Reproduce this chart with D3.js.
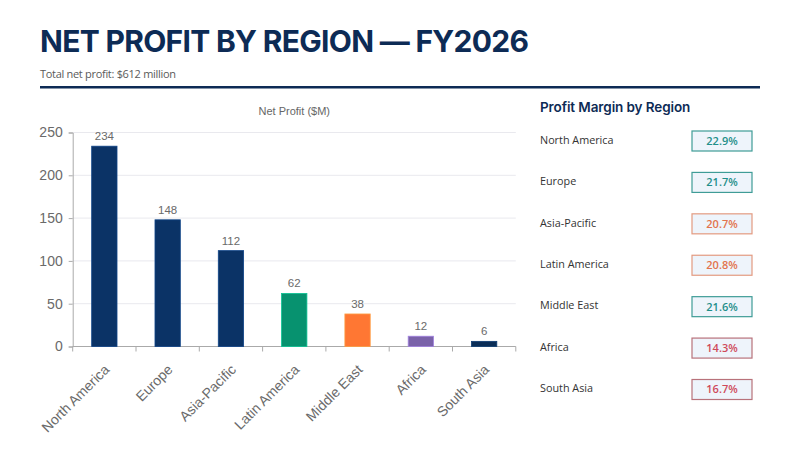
<!DOCTYPE html>
<html>
<head>
<meta charset="utf-8">
<script src="https://cdn.jsdelivr.net/npm/d3@7"></script>
<style>
  body { margin: 0; background: #fff; }
  svg { display: block; }
</style>
</head>
<body>
<div id="chart"></div>
<script>
const regions = ["North America", "Europe", "Asia-Pacific", "Latin America", "Middle East", "Africa", "South Asia"];
const profit = [234, 148, 112, 62, 38, 12, 6];
const barColors = ["#0b3366", "#0b3366", "#0b3366", "#07926f", "#ff7733", "#7a62a9", "#0a2d56"];
const margins = [22.9, 21.7, 20.7, 20.8, 21.6, 14.3, 16.7];
const yTicks = [0, 50, 100, 150, 200, 250];

const width = 800;
const height = 450;
const navy = "#0d2b55";

const svg = d3.select("#chart")
    .append("svg")
    .attr("width", width)
    .attr("height", height);

// header
svg.append("text")
    .attr("x", 40)
    .attr("y", 52)
    .attr("font-family", "Inter")
    .attr("font-weight", 700)
    .attr("font-size", 30)
    .attr("letter-spacing", -0.7)
    .attr("fill", navy)
    .text("NET PROFIT BY REGION — FY2026");

svg.append("text")
    .attr("x", 40)
    .attr("y", 78)
    .attr("font-family", "Open Sans")
    .attr("font-size", 11)
    .attr("letter-spacing", -0.3)
    .attr("fill", "#5a5a5a")
    .text("Total net profit: $612 million");

svg.append("rect")
    .attr("x", 40)
    .attr("y", 86)
    .attr("width", 720)
    .attr("height", 2.5)
    .attr("fill", navy);

// bar chart
const plot = { left: 72.7, right: 515.8, top: 132.5, bottom: 346.5 };

const x = d3.scaleBand()
    .domain(regions)
    .range([plot.left, plot.right])
    .paddingInner(0.6)
    .paddingOuter(0.3);

const y = d3.scaleLinear()
    .domain([0, 250])
    .range([plot.bottom, plot.top]);

const g = svg.append("g");

g.selectAll("line.grid")
    .data(yTicks.slice(1))
    .enter()
    .append("line")
    .attr("class", "grid")
    .attr("x1", plot.left)
    .attr("x2", plot.right)
    .attr("y1", d => y(d))
    .attr("y2", d => y(d))
    .attr("stroke", "#e9e9ee")
    .attr("stroke-width", 1);

svg.append("text")
    .attr("x", (plot.left + plot.right) / 2)
    .attr("y", 115)
    .attr("text-anchor", "middle")
    .attr("font-family", "Liberation Sans")
    .attr("font-size", 11)
    .attr("fill", "#666")
    .text("Net Profit ($M)");

const yAxis = g.append("g")
    .attr("transform", `translate(${plot.left},0)`)
    .call(d3.axisLeft(y).tickValues(yTicks).tickSize(4).tickPadding(6));
yAxis.select(".domain").attr("stroke", "#aaa");
yAxis.selectAll(".tick line").attr("stroke", "#aaa");
yAxis.selectAll("text")
    .attr("font-family", "Liberation Sans")
    .attr("font-size", 14)
    .attr("fill", "#6a6a6a");

// x axis with ticks between categories
const step = x.step();
const xAxis = g.append("g");
xAxis.append("line")
    .attr("x1", plot.left)
    .attr("x2", plot.right)
    .attr("y1", plot.bottom)
    .attr("y2", plot.bottom)
    .attr("stroke", "#aaa");
xAxis.selectAll("line.sep")
    .data(d3.range(regions.length + 1))
    .enter()
    .append("line")
    .attr("class", "sep")
    .attr("x1", i => plot.left + i * step)
    .attr("x2", i => plot.left + i * step)
    .attr("y1", plot.bottom)
    .attr("y2", plot.bottom + 5)
    .attr("stroke", "#aaa");

xAxis.selectAll("text")
    .data(regions)
    .enter()
    .append("text")
    .attr("transform", d => `translate(${x(d) + x.bandwidth() / 2 - 1},${plot.bottom + 17}) rotate(-45)`)
    .attr("text-anchor", "end")
    .attr("dy", "0.7em")
    .attr("font-family", "Liberation Sans")
    .attr("font-size", 14)
    .attr("fill", "#6a6a6a")
    .text(d => d);

g.selectAll("rect.bar")
    .data(regions)
    .enter()
    .append("rect")
    .attr("class", "bar")
    .attr("x", d => x(d))
    .attr("width", x.bandwidth())
    .attr("y", (d, i) => y(profit[i]))
    .attr("height", (d, i) => y(0) - y(profit[i]))
    .attr("fill", (d, i) => barColors[i])
    .attr("stroke", (d, i) => d3.color(barColors[i]).brighter(0.8))
    .attr("stroke-width", 0.8);

g.selectAll("text.val")
    .data(regions)
    .enter()
    .append("text")
    .attr("class", "val")
    .attr("x", d => x(d) + x.bandwidth() / 2)
    .attr("y", (d, i) => y(profit[i]) - 6)
    .attr("text-anchor", "middle")
    .attr("font-family", "Liberation Sans")
    .attr("font-size", 11.5)
    .attr("fill", "#6a6a6a")
    .text((d, i) => profit[i]);

// margin panel
const panel = svg.append("g");

panel.append("text")
    .attr("x", 540)
    .attr("y", 112)
    .attr("font-family", "Inter")
    .attr("font-weight", 600)
    .attr("font-size", 13.5)
    .attr("letter-spacing", -0.1)
    .attr("fill", navy)
    .text("Profit Margin by Region");

const rowY = d3.scalePoint()
    .domain(regions)
    .range([141, 389.5]);

function marginStyle(m) {
    if (m >= 21.5) return { stroke: "#3f9c97", text: "#1f8f8a" };
    if (m >= 20) return { stroke: "#e39a80", text: "#e2734d" };
    return { stroke: "#b8727b", text: "#cf4a5a" };
}

const rows = panel.selectAll("g.row")
    .data(regions)
    .enter()
    .append("g")
    .attr("class", "row")
    .attr("transform", d => `translate(0,${rowY(d)})`);

rows.append("text")
    .attr("x", 540)
    .attr("y", -1)
    .attr("dy", "0.35em")
    .attr("font-family", "Open Sans")
    .attr("font-size", 10.8)
    .attr("fill", "#333")
    .text(d => d);

rows.append("rect")
    .attr("x", 692)
    .attr("y", -10)
    .attr("width", 60)
    .attr("height", 20)
    .attr("fill", "#eef4fb")
    .attr("stroke", (d, i) => marginStyle(margins[i]).stroke)
    .attr("stroke-width", 1.2);

rows.append("text")
    .attr("x", 722)
    .attr("y", 0)
    .attr("dy", "0.36em")
    .attr("text-anchor", "middle")
    .attr("font-family", "Open Sans")
    .attr("font-weight", 600)
    .attr("font-size", 11)
    .attr("fill", (d, i) => marginStyle(margins[i]).text)
    .text((d, i) => margins[i].toFixed(1) + "%");
</script>
</body>
</html>
